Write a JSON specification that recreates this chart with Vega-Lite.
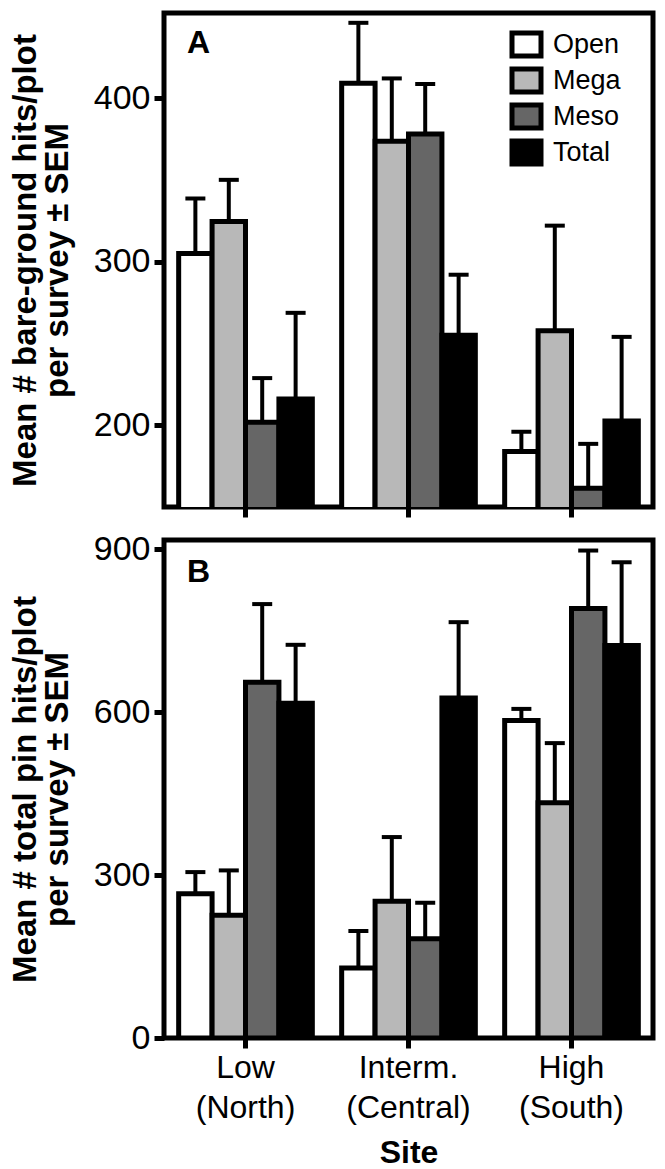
{
  "$schema": "https://vega.github.io/schema/vega-lite/v6.json",
  "background": "white",
  "padding": {"left": 6, "top": 10, "right": 5, "bottom": 2},
  "spacing": 33,
  "bounds": "flush",
  "config": {
    "font": "Liberation Sans",
    "view": {"stroke": "black", "strokeWidth": 5},
    "axis": {
      "domain": false,
      "grid": false,
      "tickColor": "black",
      "tickWidth": 5,
      "tickSize": 10,
      "labelColor": "black",
      "labelFont": "Liberation Sans",
      "labelFontSize": 34,
      "labelPadding": 4,
      "titleFont": "Liberation Sans",
      "titleFontWeight": "bold",
      "titleColor": "black"
    }
  },
  "datasets": {
    "A": [
      {"site": "Low (North)", "treatment": "Open", "mean": 305, "upper": 338.6},
      {"site": "Low (North)", "treatment": "Mega", "mean": 324.5, "upper": 350},
      {"site": "Low (North)", "treatment": "Meso", "mean": 201.8, "upper": 228.8},
      {"site": "Low (North)", "treatment": "Total", "mean": 216, "upper": 268.7},
      {"site": "Interm. (Central)", "treatment": "Open", "mean": 409, "upper": 446},
      {"site": "Interm. (Central)", "treatment": "Mega", "mean": 373.6, "upper": 412},
      {"site": "Interm. (Central)", "treatment": "Meso", "mean": 378, "upper": 408.6},
      {"site": "Interm. (Central)", "treatment": "Total", "mean": 255, "upper": 292},
      {"site": "High (South)", "treatment": "Open", "mean": 184, "upper": 196},
      {"site": "High (South)", "treatment": "Mega", "mean": 257.7, "upper": 322},
      {"site": "High (South)", "treatment": "Meso", "mean": 161.5, "upper": 188.6},
      {"site": "High (South)", "treatment": "Total", "mean": 202.5, "upper": 254}
    ],
    "B": [
      {"site": "Low (North)", "treatment": "Open", "mean": 265.6, "upper": 305.5},
      {"site": "Low (North)", "treatment": "Mega", "mean": 225.8, "upper": 308.6},
      {"site": "Low (North)", "treatment": "Meso", "mean": 655, "upper": 799},
      {"site": "Low (North)", "treatment": "Total", "mean": 616.6, "upper": 724},
      {"site": "Interm. (Central)", "treatment": "Open", "mean": 128.8, "upper": 197},
      {"site": "Interm. (Central)", "treatment": "Mega", "mean": 251.6, "upper": 370},
      {"site": "Interm. (Central)", "treatment": "Meso", "mean": 182.8, "upper": 249},
      {"site": "Interm. (Central)", "treatment": "Total", "mean": 626, "upper": 765.7},
      {"site": "High (South)", "treatment": "Open", "mean": 584.7, "upper": 606},
      {"site": "High (South)", "treatment": "Mega", "mean": 433, "upper": 543},
      {"site": "High (South)", "treatment": "Meso", "mean": 791, "upper": 897.6},
      {"site": "High (South)", "treatment": "Total", "mean": 722.8, "upper": 876}
    ]
  },
  "resolve": {
    "scale": {"y": "independent", "fill": "independent"},
    "legend": {"fill": "independent"}
  },
  "vconcat": [
    {
      "width": 489,
      "height": 494,
      "data": {"name": "A"},
      "title": {"text": "A", "anchor": "start", "frame": "group", "offset": -47, "dx": 23, "fontSize": 32, "fontWeight": "bold", "font": "Liberation Sans", "color": "black"},
      "encoding": {
        "x": {
          "field": "site", "type": "nominal",
          "sort": ["Low (North)", "Interm. (Central)", "High (South)"],
          "scale": {"paddingInner": 0.18, "paddingOuter": 0.09},
          "axis": {"title": null, "labels": false}
        },
        "xOffset": {
          "field": "treatment", "type": "nominal",
          "sort": ["Open", "Mega", "Meso", "Total"],
          "scale": {"paddingInner": 0, "paddingOuter": 0}
        }
      },
      "layer": [
        {
          "mark": {"type": "bar", "stroke": "black", "strokeWidth": 5, "clip": true},
          "encoding": {
            "y": {
              "field": "mean", "type": "quantitative",
              "scale": {"domain": [150, 452], "nice": false, "zero": false},
              "axis": {"values": [200, 300, 400], "title": ["Mean # bare-ground hits/plot", "per survey ± SEM"], "titleFontSize": 33, "titleLineHeight": 32, "titlePadding": 19}
            },
            "fill": {
              "field": "treatment", "type": "nominal",
              "scale": {"domain": ["Open", "Mega", "Meso", "Total"], "range": ["#ffffff", "#b8b8b8", "#666666", "#000000"]},
              "legend": {
                "title": null, "orient": "none", "legendX": 349, "legendY": 18,
                "symbolType": "M-1.45,-1.15H1.45V1.15H-1.45Z", "symbolSize": 400,
                "symbolStrokeColor": "black", "symbolStrokeWidth": 5,
                "labelFontSize": 27, "labelFont": "Liberation Sans", "labelColor": "black",
                "labelOffset": 13, "rowPadding": -7
              }
            }
          }
        },
        {
          "mark": {"type": "rule", "strokeWidth": 4, "color": "black"},
          "encoding": {"y": {"field": "mean", "type": "quantitative"}, "y2": {"field": "upper"}}
        },
        {
          "mark": {"type": "tick", "thickness": 4, "size": 20, "color": "black", "opacity": 1},
          "encoding": {"y": {"field": "upper", "type": "quantitative"}}
        }
      ]
    },
    {
      "width": 489,
      "height": 498,
      "data": {"name": "B"},
      "title": {"text": "B", "anchor": "start", "frame": "group", "offset": -57, "dx": 23, "fontSize": 32, "fontWeight": "bold", "font": "Liberation Sans", "color": "black"},
      "encoding": {
        "x": {
          "field": "site", "type": "nominal",
          "sort": ["Low (North)", "Interm. (Central)", "High (South)"],
          "scale": {"paddingInner": 0.18, "paddingOuter": 0.09},
          "axis": {"title": "Site", "labelAngle": 0, "labelFontSize": 32, "labelLineHeight": 40, "labelExpr": "split(datum.label, ' ')", "titleFontSize": 32, "titlePadding": 14}
        },
        "xOffset": {
          "field": "treatment", "type": "nominal",
          "sort": ["Open", "Mega", "Meso", "Total"],
          "scale": {"paddingInner": 0, "paddingOuter": 0}
        }
      },
      "layer": [
        {
          "mark": {"type": "bar", "stroke": "black", "strokeWidth": 5, "clip": true},
          "encoding": {
            "y": {
              "field": "mean", "type": "quantitative",
              "scale": {"domain": [0, 917], "nice": false},
              "axis": {"values": [0, 300, 600, 900], "title": ["Mean # total pin hits/plot", "per survey ± SEM"], "titleFontSize": 33, "titleLineHeight": 32, "titlePadding": 19}
            },
            "fill": {
              "field": "treatment", "type": "nominal",
              "scale": {"domain": ["Open", "Mega", "Meso", "Total"], "range": ["#ffffff", "#b8b8b8", "#666666", "#000000"]},
              "legend": null
            }
          }
        },
        {
          "mark": {"type": "rule", "strokeWidth": 4, "color": "black"},
          "encoding": {"y": {"field": "mean", "type": "quantitative"}, "y2": {"field": "upper"}}
        },
        {
          "mark": {"type": "tick", "thickness": 4, "size": 20, "color": "black", "opacity": 1},
          "encoding": {"y": {"field": "upper", "type": "quantitative"}}
        }
      ]
    }
  ]
}
